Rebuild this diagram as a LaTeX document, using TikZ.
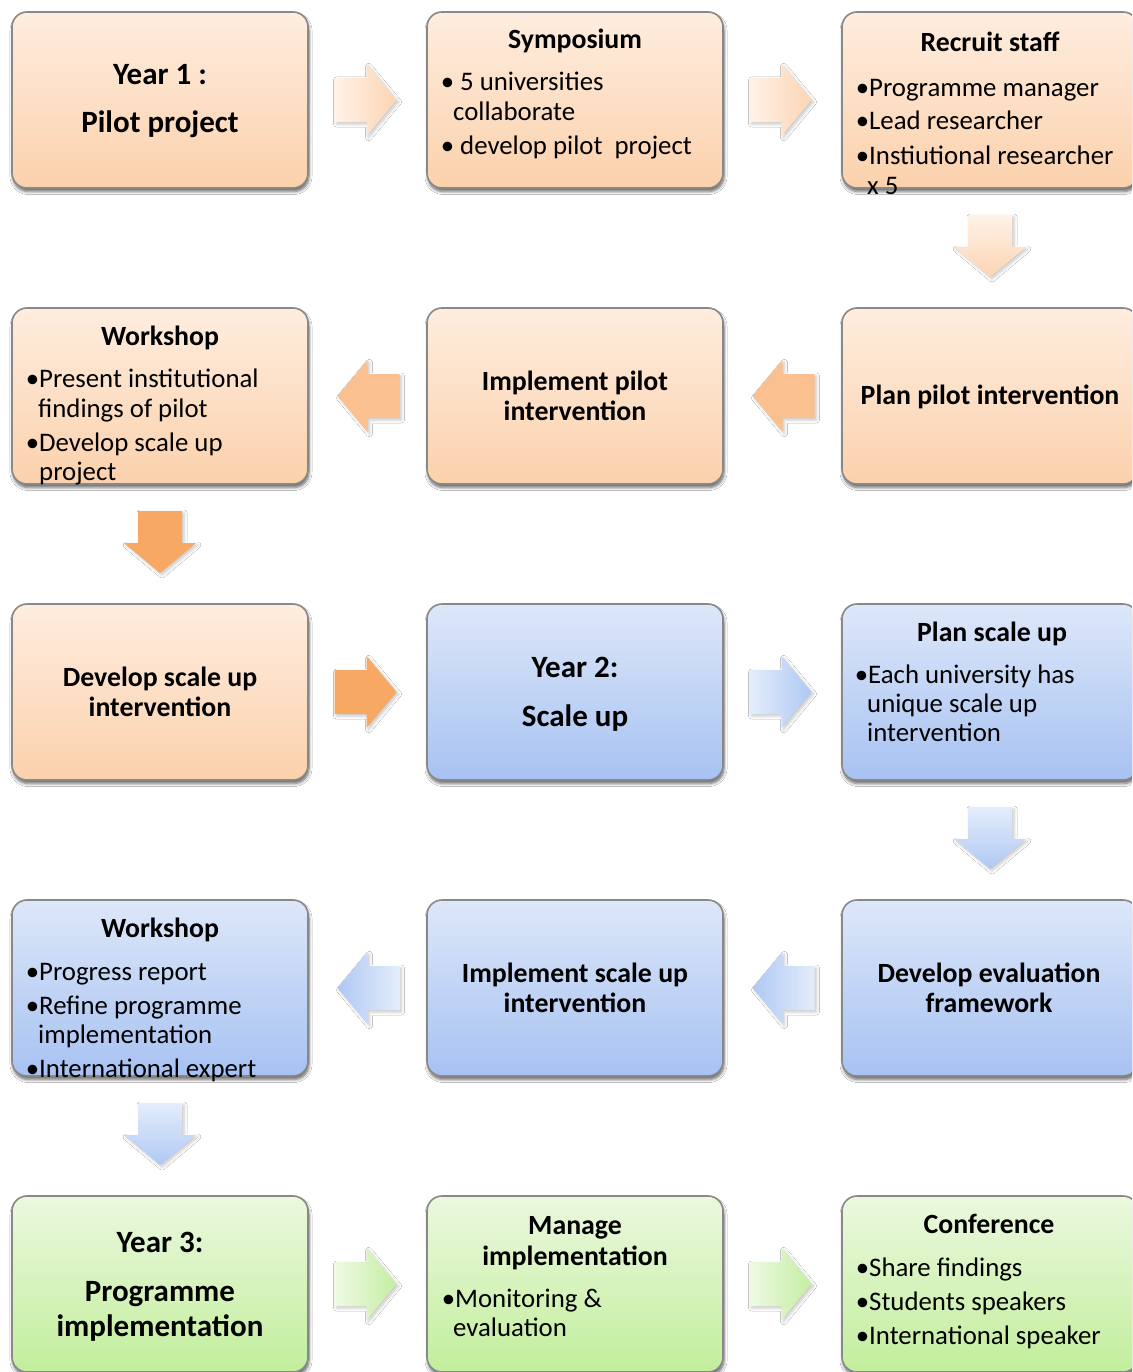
\documentclass[tikz,border=0pt]{standalone}
\usepackage{fontspec}
\setmainfont{Carlito}
\usetikzlibrary{calc,shadows.blur}

% box fills
\definecolor{peachTop}{HTML}{FEEDDF}
\definecolor{peachBot}{HTML}{FBD1AC}
\definecolor{blueTop}{HTML}{DDE7F9}
\definecolor{blueBot}{HTML}{A7C2F2}
\definecolor{greenTop}{HTML}{EBF8DE}
\definecolor{greenBot}{HTML}{C2EE9C}
\definecolor{boxEdge}{HTML}{888888}
% arrow fills
\definecolor{peachSolid}{HTML}{FAC090}
\definecolor{orangeSolid}{HTML}{F7A863}
\definecolor{peachTail}{HTML}{FFF2E8}
\definecolor{peachTip}{HTML}{FCD4B3}
\definecolor{blueTail}{HTML}{E4EDFB}
\definecolor{blueTip}{HTML}{AFC8F3}
\definecolor{greenTail}{HTML}{EFF9E4}
\definecolor{greenTip}{HTML}{C4EEA1}

\newcommand\bodyfont{\fontsize{26.8}{30}\selectfont}
\newcommand\headfont{\fontsize{27.8}{31}\selectfont\bfseries}
\newcommand\titlefont{\fontsize{31}{35}\selectfont\bfseries}

% block arrows centred on a named coordinate
\newcommand\arrowright[2]{\path[blockarrow,#2,shift={(#1)}]
  (-33,-22) -- (-1,-22) -- (-1,-36) -- (29,0) -- (-1,36) -- (-1,22) -- (-33,22) -- cycle;}
\newcommand\arrowleft[2]{\path[blockarrow,#2,shift={(#1)}]
  (32,-22) -- (0,-22) -- (0,-36) -- (-30,0) -- (0,36) -- (0,22) -- (32,22) -- cycle;}
\newcommand\arrowdown[2]{\path[blockarrow,#2,shift={(#1)}]
  (-22,-33) -- (-22,-1) -- (-36,-1) -- (0,29) -- (36,-1) -- (22,-1) -- (22,-33) -- cycle;}

% text helpers
\newcommand\headtxt[4]{\node[headsty] (#1) at (#2,#3) {#4};}
\newcommand\titletxt[4]{\node[titlesty] (#1) at (#2,#3) {#4};}
\newcommand\bodytxt[4]{\node[bodysty] (#1) at (#2,#3) {#4};}
\newcommand\bul{\llap{•}}

\tikzset{
  stagebox/.style={draw=boxEdge, line width=1.6pt, rounded corners=15pt,
    minimum width=296pt, minimum height=176pt, inner sep=0pt,
    blur shadow={shadow xshift=1pt, shadow yshift=-3.5pt,
      shadow blur radius=3pt, shadow blur steps=6, shadow opacity=60}},
  peachbox/.style={stagebox, top color=peachTop, bottom color=peachBot},
  bluebox/.style={stagebox, top color=blueTop, bottom color=blueBot},
  greenbox/.style={stagebox, top color=greenTop, bottom color=greenBot},
  blockarrow/.style={draw=none,
    blur shadow={shadow xshift=2pt, shadow yshift=-2pt,
      shadow blur radius=3pt, shadow blur steps=5, shadow opacity=22}},
  headsty/.style={anchor=base, inner sep=0pt, font=\headfont},
  titlesty/.style={anchor=base, inner sep=0pt, font=\titlefont},
  bodysty/.style={anchor=base west, inner sep=0pt, font=\bodyfont},
}

\begin{document}
\begin{tikzpicture}[x=1pt,y=-1pt]
\fill[white] (0,0) rectangle (1132,1372);
\useasboundingbox (0,0) rectangle (1132,1372);
\clip (0,0) rectangle (1132,1372);

% ---- stage boxes ----
\node[peachbox] (b1) at (160,100) {};
\node[peachbox] (b2) at (575,100) {};
\node[peachbox] (b3) at (990,100) {};
\node[peachbox] (b4) at (160,396) {};
\node[peachbox] (b5) at (575,396) {};
\node[peachbox] (b6) at (990,396) {};
\node[peachbox] (b7) at (160,692) {};
\node[bluebox]  (b8) at (575,692) {};
\node[bluebox]  (b9) at (990,692) {};
\node[bluebox]  (b10) at (160,988) {};
\node[bluebox]  (b11) at (575,988) {};
\node[bluebox]  (b12) at (990,988) {};
\node[greenbox] (b13) at (160,1284) {};
\node[greenbox] (b14) at (575,1284) {};
\node[greenbox] (b15) at (990,1284) {};

% ---- arrow positions ----
\coordinate (c12) at ($(b1.east)!0.5!(b2.west)$);
\coordinate (c23) at ($(b2.east)!0.5!(b3.west)$);
\coordinate (c36) at ($(b3.south)!0.5!(b6.north)$);
\coordinate (c65) at ($(b6.west)!0.5!(b5.east)$);
\coordinate (c54) at ($(b5.west)!0.5!(b4.east)$);
\coordinate (c47) at ($(b4.south)!0.5!(b7.north)$);
\coordinate (c78) at ($(b7.east)!0.5!(b8.west)$);
\coordinate (c89) at ($(b8.east)!0.5!(b9.west)$);
\coordinate (c912) at ($(b9.south)!0.5!(b12.north)$);
\coordinate (c1211) at ($(b12.west)!0.5!(b11.east)$);
\coordinate (c1110) at ($(b11.west)!0.5!(b10.east)$);
\coordinate (c1013) at ($(b10.south)!0.5!(b13.north)$);
\coordinate (c1314) at ($(b13.east)!0.5!(b14.west)$);
\coordinate (c1415) at ($(b14.east)!0.5!(b15.west)$);

% ---- block arrows ----
\arrowright{c12}{left color=peachTail, right color=peachTip}
\arrowright{c23}{left color=peachTail, right color=peachTip}
\arrowdown{c36}{top color=peachTail, bottom color=peachTip}
\arrowleft{c65}{fill=peachSolid}
\arrowleft{c54}{fill=peachSolid}
\arrowdown{c47}{fill=orangeSolid}
\arrowright{c78}{fill=orangeSolid}
\arrowright{c89}{left color=blueTail, right color=blueTip}
\arrowdown{c912}{top color=blueTail, bottom color=blueTip}
\arrowleft{c1211}{left color=blueTip, right color=blueTail}
\arrowleft{c1110}{left color=blueTip, right color=blueTail}
\arrowdown{c1013}{top color=blueTail, bottom color=blueTip}
\arrowright{c1314}{left color=greenTail, right color=greenTip}
\arrowright{c1415}{left color=greenTail, right color=greenTip}

% ---- row 1 ----
\titletxt{t1a}{160}{85}{Year 1 :}
\titletxt{t1b}{160}{133}{Pilot project}

\headtxt{t2h}{575}{49}{Symposium}
\bodytxt{t2a}{460}{91}{\llap{• }5 universities}
\bodytxt{t2b}{453}{121}{collaborate}
\bodytxt{t2c}{460}{155}{\llap{• }develop pilot~~project}

\headtxt{t3h}{990}{52}{Recruit staff}
\bodytxt{t3a}{869}{97}{\bul Programme manager}
\bodytxt{t3b}{869}{130}{\bul Lead researcher}
\bodytxt{t3c}{869}{165}{\bul Instiutional researcher}
\bodytxt{t3d}{867}{195}{x 5}

% ---- row 2 ----
\headtxt{t4h}{160}{345}{Workshop}
\bodytxt{t4a}{39}{387}{\bul Present institutional}
\bodytxt{t4b}{38}{417}{findings of pilot}
\bodytxt{t4c}{39}{451}{\bul Develop scale up}
\bodytxt{t4d}{39}{480}{project}

\headtxt{t5a}{575}{390}{Implement pilot}
\headtxt{t5b}{575}{420}{intervention}

\headtxt{t6a}{990}{404}{Plan pilot intervention}

% ---- row 3 ----
\headtxt{t7a}{160}{686}{Develop scale up}
\headtxt{t7b}{160}{716}{intervention}

\titletxt{t8a}{575}{677}{Year 2:}
\titletxt{t8b}{575}{726}{Scale up}

\headtxt{t9h}{992}{641}{Plan scale up}
\bodytxt{t9a}{868}{683}{\bul Each university has}
\bodytxt{t9b}{867}{712}{unique scale up}
\bodytxt{t9c}{867}{741}{intervention}

% ---- row 4 ----
\headtxt{t10h}{160}{937}{Workshop}
\bodytxt{t10a}{39}{980}{\bul Progress report}
\bodytxt{t10b}{39}{1014}{\bul Refine programme}
\bodytxt{t10c}{38}{1043}{implementation}
\bodytxt{t10d}{39}{1077}{\bul International expert}

\headtxt{t11a}{575}{982}{Implement scale up}
\headtxt{t11b}{575}{1012}{intervention}

\headtxt{t12a}{989}{982}{Develop evaluation}
\headtxt{t12b}{989}{1012}{framework}

% ---- row 5 ----
\titletxt{t13a}{160}{1252}{Year 3:}
\titletxt{t13b}{160}{1301}{Programme}
\titletxt{t13c}{160}{1336}{implementation}

\headtxt{t14a}{575}{1234}{Manage}
\headtxt{t14b}{575}{1265}{implementation}
\bodytxt{t14c}{455}{1307}{\bul Monitoring \&}
\bodytxt{t14d}{453}{1336}{evaluation}

\headtxt{t15h}{989}{1233}{Conference}
\bodytxt{t15a}{869}{1276}{\bul Share findings}
\bodytxt{t15b}{869}{1310}{\bul Students speakers}
\bodytxt{t15c}{869}{1344}{\bul International speaker}
\end{tikzpicture}
\end{document}
